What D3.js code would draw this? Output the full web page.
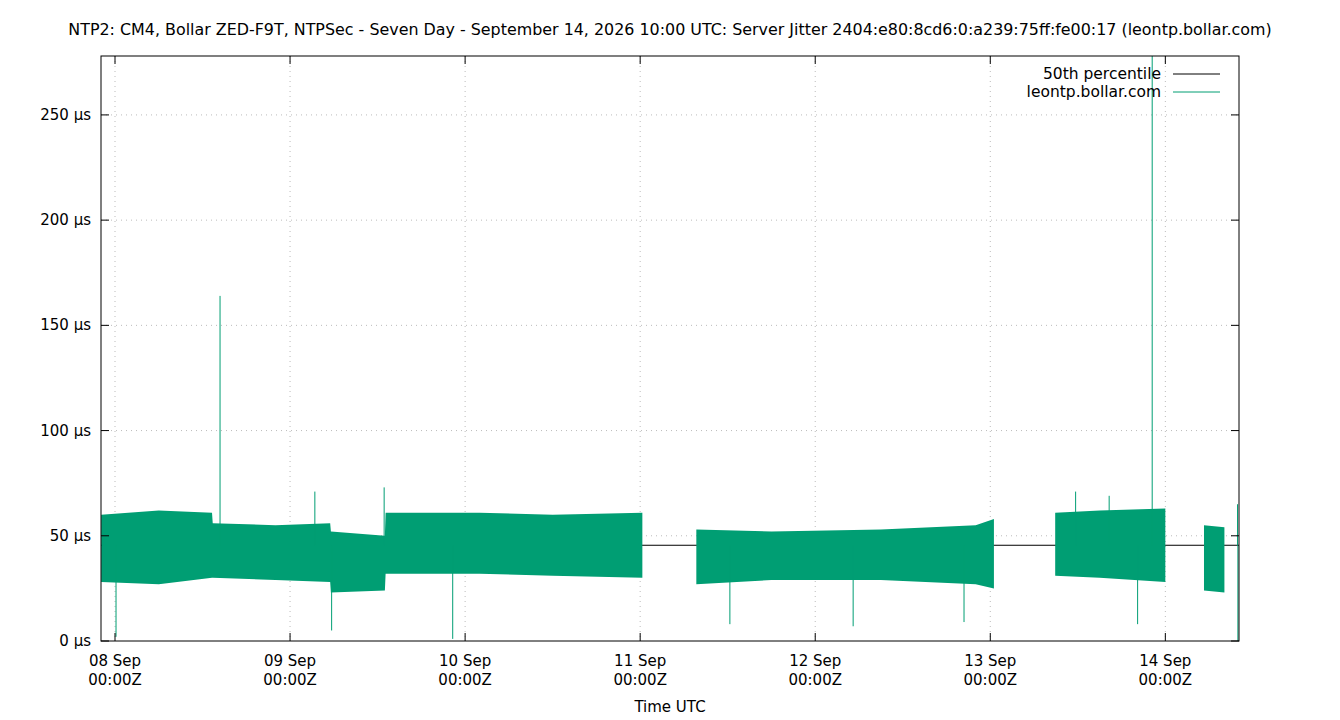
<!DOCTYPE html>
<html>
<head>
<meta charset="utf-8">
<script src="https://cdn.jsdelivr.net/npm/d3@7"></script>
<style>
body { margin: 0; background: #fff; }
text { font-family: "DejaVu Sans", sans-serif; }
</style>
</head>
<body>
<div id="chart"></div>
<script>
// hours since 08 Sep 00:00Z; null = no data
var bandHour = [-1.9, 6, 13.3, 13.4, 22, 29.5, 29.6, 37.0, 37.1, 50, 60, 72.3, 72.4, 79.7, 90, 105, 118, 120.5, 120.6, 128.9, 135, 144.0, 144.1, 149.3, 152.1, 152.2];
var bandLo   = [28, 27, 30, 30, 29, 28, 23, 24, 32, 32, 31, 30, null, 27, 29, 29, 27, 25, null, 31, 30, 28, null, 24, 23, null];
var bandHi   = [60, 62, 61, 56, 55, 56, 52, 50, 61, 61, 60, 61, null, 53, 52, 53, 55, 58, null, 61, 62, 63, null, 55, 54, null];

var spikeHour = [0.14, 14.4, 27.4, 29.7, 36.9, 46.3, 84.3, 101.2, 116.4, 131.7, 136.3, 140.2, 142.2, 153.9, 153.95];
var spikeVal  = [2, 164, 71, 5, 73, 1, 8, 7, 9, 71, 69, 8, 278, 65, 0];

var medianVal = 45.5;
var dayLabels = ["08 Sep", "09 Sep", "10 Sep", "11 Sep", "12 Sep", "13 Sep", "14 Sep"];
var yTicks = [0, 50, 100, 150, 200, 250];

var W = 1340, H = 720;
var m = {l: 101, r: 1239, t: 56, b: 641};
var green = "#009e73";

var svg = d3.select("#chart").append("svg").attr("width", W).attr("height", H);

var x = d3.scaleLinear().domain([-1.92, 154.1]).range([m.l, m.r]);
var y = d3.scaleLinear().domain([0, 278]).range([m.b, m.t]);

// grid
svg.selectAll(".gy").data(yTicks.slice(1)).enter().append("line")
    .attr("x1", m.l).attr("x2", m.r).attr("y1", d => y(d)).attr("y2", d => y(d))
    .attr("stroke", "#bbb").attr("stroke-dasharray", "1,4");
svg.selectAll(".gx").data(dayLabels).enter().append("line")
    .attr("x1", (d, i) => x(i * 24)).attr("x2", (d, i) => x(i * 24))
    .attr("y1", m.t).attr("y2", m.b)
    .attr("stroke", "#bbb").attr("stroke-dasharray", "1,4");

// median line
svg.append("line").attr("x1", m.l).attr("x2", m.r)
    .attr("y1", y(medianVal)).attr("y2", y(medianVal))
    .attr("stroke", "#000").attr("stroke-width", 1);

// jitter band
var rows = bandHour.map((h, i) => ({h: h, lo: bandLo[i], hi: bandHi[i]}));
var area = d3.area().defined(d => d.lo != null)
    .x(d => x(d.h)).y0(d => y(d.lo)).y1(d => y(d.hi));
svg.append("path").attr("d", area(rows)).attr("fill", green);

// spikes
svg.selectAll(".sp").data(spikeHour).enter().append("line")
    .attr("x1", d => x(d)).attr("x2", d => x(d))
    .attr("y1", y(medianVal)).attr("y2", (d, i) => y(spikeVal[i]))
    .attr("stroke", green).attr("stroke-width", 1);

// frame
svg.append("rect").attr("x", m.l).attr("y", m.t).attr("width", m.r - m.l).attr("height", m.b - m.t)
    .attr("fill", "none").attr("stroke", "#000");

// y axis
yTicks.forEach(function(v) {
    svg.append("line").attr("x1", m.l).attr("x2", m.l + 8).attr("y1", y(v)).attr("y2", y(v)).attr("stroke", "#000");
    svg.append("line").attr("x1", m.r).attr("x2", m.r - 8).attr("y1", y(v)).attr("y2", y(v)).attr("stroke", "#000");
    svg.append("text").attr("x", m.l - 10).attr("y", y(v) + 5).attr("text-anchor", "end")
        .attr("font-size", 15).text(v + " µs");
});

// x axis
dayLabels.forEach(function(lab, i) {
    var px = x(i * 24);
    svg.append("line").attr("x1", px).attr("x2", px).attr("y1", m.b).attr("y2", m.b - 8).attr("stroke", "#000");
    svg.append("line").attr("x1", px).attr("x2", px).attr("y1", m.t).attr("y2", m.t + 8).attr("stroke", "#000");
    svg.append("text").attr("x", px).attr("y", 666).attr("text-anchor", "middle").attr("font-size", 15).text(lab);
    svg.append("text").attr("x", px).attr("y", 685).attr("text-anchor", "middle").attr("font-size", 15).text("00:00Z");
});

svg.append("text").attr("x", (m.l + m.r) / 2).attr("y", 712).attr("text-anchor", "middle")
    .attr("font-size", 15).text("Time UTC");

svg.append("text").attr("x", 670).attr("y", 35).attr("text-anchor", "middle").attr("font-size", 15.9)
    .text("NTP2: CM4, Bollar ZED-F9T, NTPSec - Seven Day - September 14, 2026 10:00 UTC: Server Jitter 2404:e80:8cd6:0:a239:75ff:fe00:17 (leontp.bollar.com)");

// legend
var leg = [{t: "50th percentile", c: "#000"}, {t: "leontp.bollar.com", c: green}];
leg.forEach(function(d, i) {
    var ly = 74 + i * 18;
    svg.append("text").attr("x", 1161).attr("y", ly + 5).attr("text-anchor", "end").attr("font-size", 15.5).text(d.t);
    svg.append("line").attr("x1", 1173).attr("x2", 1220).attr("y1", ly).attr("y2", ly).attr("stroke", d.c);
});
</script>
</body>
</html>
